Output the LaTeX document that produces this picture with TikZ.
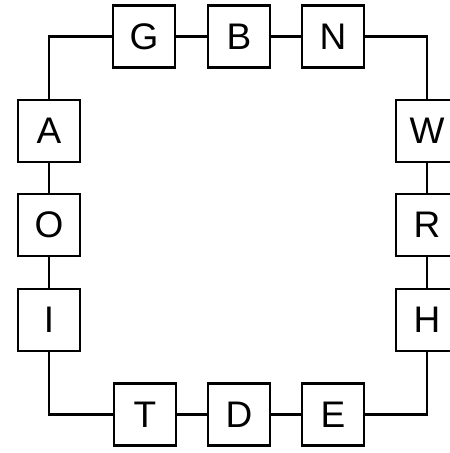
\documentclass[tikz,border=0pt]{standalone}
\usepackage{fontspec}
\setmainfont{Liberation Sans}
\begin{document}
\begin{tikzpicture}[x=1pt,y=-1pt,
    letter/.style={draw,line width=2.5pt,minimum size=62pt,inner sep=0pt,font=\fontsize{37}{37}\selectfont}]
      \clip (0,0) rectangle (450,453);
      \draw
        (144,36.5) node[letter] (G){G}
        (239,36.5) node[letter] (B){B}
        (333,36.5) node[letter] (N){N}
        (427,131) node[letter] (W){W}
        (427,225) node[letter] (R){R}
        (427,320) node[letter] (H){H}
        (333,414.5) node[letter] (E){E}
        (239,414.5) node[letter] (D){D}
        (145,414.5) node[letter] (T){T}
        (49,320) node[letter] (I){I}
        (49,225) node[letter] (O){O}
        (49,131) node[letter] (A){A};
      \begin{scope}[line width=2.5pt]
        \draw (G) to (B);
        \draw (B) to (N);
        \draw (N) -| (W);
        \draw (W) to (R);
        \draw (R) to (H);
        \draw (E) -| (H);
        \draw (D) to (E);
        \draw (T) to (D);
        \draw (T) -| (I);
        \draw (I) to (O);
        \draw (O) to (A);
        \draw (G) -| (A);
      \end{scope}
    \end{tikzpicture}
\end{document}
